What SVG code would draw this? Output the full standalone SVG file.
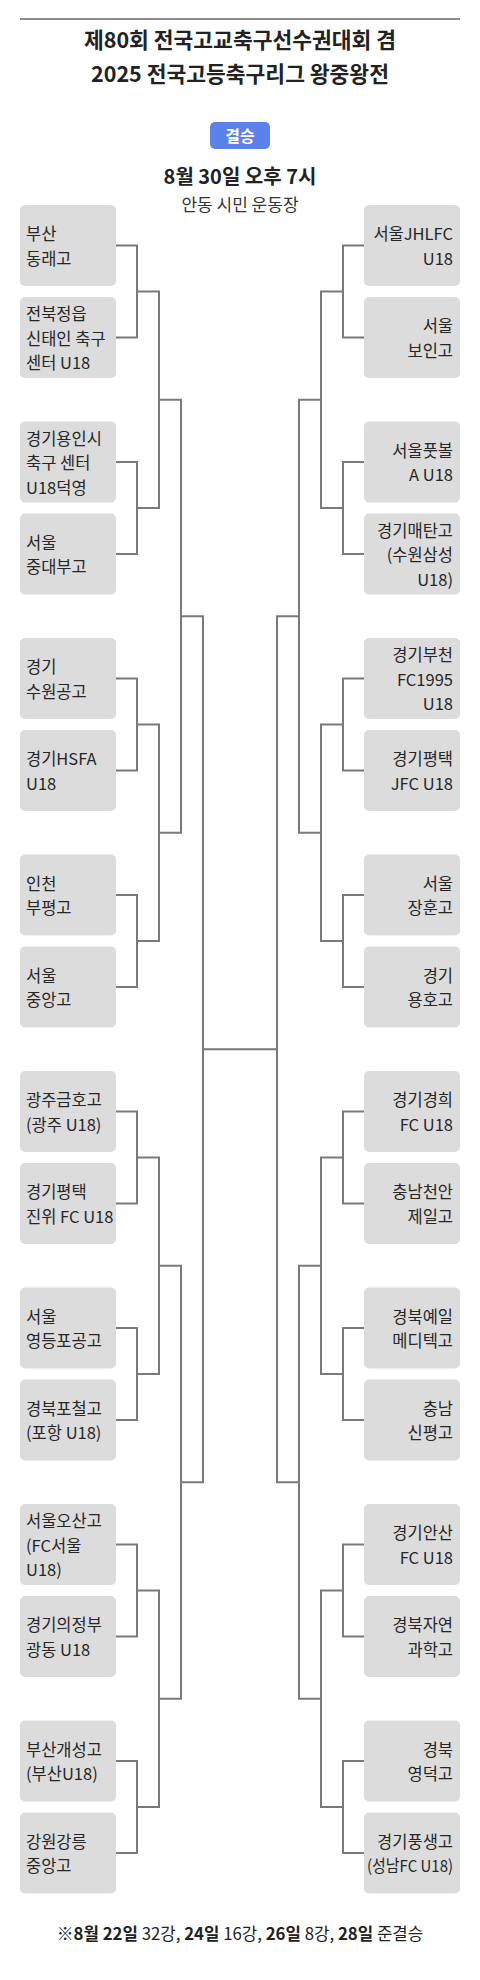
<svg xmlns="http://www.w3.org/2000/svg" width="480" height="1980" viewBox="0 0 480 1980">
<style>
.bg{fill:#ffffff}
.box{fill:#dcdcdc}
.t{font-family:"Noto Sans CJK KR","Noto Sans",sans-serif;font-size:16.5px;fill:#262626}
.l{text-anchor:start}
.r{text-anchor:end}
.title{font-family:"Noto Sans CJK KR","Noto Sans",sans-serif;font-size:21.5px;font-weight:700;fill:#222;text-anchor:middle}
.conn{fill:none;stroke:#7a7a7a;stroke-width:2}
</style>
<rect class="bg" x="0" y="0" width="480" height="1980"/>
<line x1="20" y1="19" x2="460" y2="19" stroke="#8c8c8c" stroke-width="2"/>
<g id="header">
<text class="title" x="240" y="47.5">제80회 전국고교축구선수권대회 겸</text>
<text class="title" x="240" y="81.5">2025 전국고등축구리그 왕중왕전</text>
<rect x="210" y="122" width="60" height="27" rx="5" fill="#5b81ea"/>
<text x="240" y="142" font-family="'Noto Sans CJK KR',sans-serif" font-size="16" font-weight="700" fill="#ffffff" text-anchor="middle">결승</text>
<text x="240" y="184" font-family="'Noto Sans CJK KR',sans-serif" font-size="20" font-weight="700" fill="#222" text-anchor="middle">8월 30일 오후 7시</text>
<text x="240" y="211" font-family="'Noto Sans CJK KR',sans-serif" font-size="17" fill="#333" text-anchor="middle">안동 시민 운동장</text>
</g>
<g id="connectors">
<path class="conn" d="M116 245.5H137V337.5H116M116 462H137V554H116M116 678.5H137V770.5H116M116 895H137V987H116M116 1111.5H137V1203.5H116M116 1328H137V1420H116M116 1544.5H137V1636.5H116M116 1761H137V1853H116"/>
<path class="conn" d="M137 291.5H159V508H137M137 724.5H159V941H137M137 1157.5H159V1374H137M137 1590.5H159V1807H137"/>
<path class="conn" d="M159 399.75H181V832.75H159M159 1265.75H181V1698.75H159"/>
<path class="conn" d="M181 616.25H203V1482.25H181"/>
<path class="conn" d="M364 245.5H343V337.5H364M364 462H343V554H364M364 678.5H343V770.5H364M364 895H343V987H364M364 1111.5H343V1203.5H364M364 1328H343V1420H364M364 1544.5H343V1636.5H364M364 1761H343V1853H364"/>
<path class="conn" d="M343 291.5H321V508H343M343 724.5H321V941H343M343 1157.5H321V1374H343M343 1590.5H321V1807H343"/>
<path class="conn" d="M321 399.75H299V832.75H321M321 1265.75H299V1698.75H321"/>
<path class="conn" d="M299 616.25H277V1482.25H299"/>
<path class="conn" d="M203 1049.25H277"/>
</g>
<g id="L1"><rect class="box" x="20" y="205" width="96" height="81" rx="5"/><text class="t l"><tspan x="26" y="240.25">부산</tspan><tspan x="26" y="264.75">동래고</tspan></text></g>
<g id="L2"><rect class="box" x="20" y="297" width="96" height="81" rx="5"/><text class="t l"><tspan x="26" y="320">전북정읍</tspan><tspan x="26" y="344.5">신태인 축구</tspan><tspan x="26" y="369">센터 U18</tspan></text></g>
<g id="L3"><rect class="box" x="20" y="421.5" width="96" height="81" rx="5"/><text class="t l"><tspan x="26" y="444.5">경기용인시</tspan><tspan x="26" y="469">축구 센터</tspan><tspan x="26" y="493.5">U18덕영</tspan></text></g>
<g id="L4"><rect class="box" x="20" y="513.5" width="96" height="81" rx="5"/><text class="t l"><tspan x="26" y="548.75">서울</tspan><tspan x="26" y="573.25">중대부고</tspan></text></g>
<g id="L5"><rect class="box" x="20" y="638" width="96" height="81" rx="5"/><text class="t l"><tspan x="26" y="673.25">경기</tspan><tspan x="26" y="697.75">수원공고</tspan></text></g>
<g id="L6"><rect class="box" x="20" y="730" width="96" height="81" rx="5"/><text class="t l"><tspan x="26" y="765.25">경기HSFA</tspan><tspan x="26" y="789.75">U18</tspan></text></g>
<g id="L7"><rect class="box" x="20" y="854.5" width="96" height="81" rx="5"/><text class="t l"><tspan x="26" y="889.75">인천</tspan><tspan x="26" y="914.25">부평고</tspan></text></g>
<g id="L8"><rect class="box" x="20" y="946.5" width="96" height="81" rx="5"/><text class="t l"><tspan x="26" y="981.75">서울</tspan><tspan x="26" y="1006.25">중앙고</tspan></text></g>
<g id="L9"><rect class="box" x="20" y="1071" width="96" height="81" rx="5"/><text class="t l"><tspan x="26" y="1106.25">광주금호고</tspan><tspan x="26" y="1130.75">(광주 U18)</tspan></text></g>
<g id="L10"><rect class="box" x="20" y="1163" width="96" height="81" rx="5"/><text class="t l"><tspan x="26" y="1198.25">경기평택</tspan><tspan x="26" y="1222.75">진위 FC U18</tspan></text></g>
<g id="L11"><rect class="box" x="20" y="1287.5" width="96" height="81" rx="5"/><text class="t l"><tspan x="26" y="1322.75">서울</tspan><tspan x="26" y="1347.25">영등포공고</tspan></text></g>
<g id="L12"><rect class="box" x="20" y="1379.5" width="96" height="81" rx="5"/><text class="t l"><tspan x="26" y="1414.75">경북포철고</tspan><tspan x="26" y="1439.25">(포항 U18)</tspan></text></g>
<g id="L13"><rect class="box" x="20" y="1504" width="96" height="81" rx="5"/><text class="t l"><tspan x="26" y="1527">서울오산고</tspan><tspan x="26" y="1551.5">(FC서울</tspan><tspan x="26" y="1576">U18)</tspan></text></g>
<g id="L14"><rect class="box" x="20" y="1596" width="96" height="81" rx="5"/><text class="t l"><tspan x="26" y="1631.25">경기의정부</tspan><tspan x="26" y="1655.75">광동 U18</tspan></text></g>
<g id="L15"><rect class="box" x="20" y="1720.5" width="96" height="81" rx="5"/><text class="t l"><tspan x="26" y="1755.75">부산개성고</tspan><tspan x="26" y="1780.25">(부산U18)</tspan></text></g>
<g id="L16"><rect class="box" x="20" y="1812.5" width="96" height="81" rx="5"/><text class="t l"><tspan x="26" y="1847.75">강원강릉</tspan><tspan x="26" y="1872.25">중앙고</tspan></text></g>
<g id="R1"><rect class="box" x="364" y="205" width="96" height="81" rx="5"/><text class="t r"><tspan x="453" y="240.25">서울JHLFC</tspan><tspan x="453" y="264.75">U18</tspan></text></g>
<g id="R2"><rect class="box" x="364" y="297" width="96" height="81" rx="5"/><text class="t r"><tspan x="453" y="332.25">서울</tspan><tspan x="453" y="356.75">보인고</tspan></text></g>
<g id="R3"><rect class="box" x="364" y="421.5" width="96" height="81" rx="5"/><text class="t r"><tspan x="453" y="456.75">서울풋볼</tspan><tspan x="453" y="481.25">A U18</tspan></text></g>
<g id="R4"><rect class="box" x="364" y="513.5" width="96" height="81" rx="5"/><text class="t r"><tspan x="453" y="536.5">경기매탄고</tspan><tspan x="453" y="561">(수원삼성</tspan><tspan x="453" y="585.5">U18)</tspan></text></g>
<g id="R5"><rect class="box" x="364" y="638" width="96" height="81" rx="5"/><text class="t r"><tspan x="453" y="661">경기부천</tspan><tspan x="453" y="685.5">FC1995</tspan><tspan x="453" y="710">U18</tspan></text></g>
<g id="R6"><rect class="box" x="364" y="730" width="96" height="81" rx="5"/><text class="t r"><tspan x="453" y="765.25">경기평택</tspan><tspan x="453" y="789.75">JFC U18</tspan></text></g>
<g id="R7"><rect class="box" x="364" y="854.5" width="96" height="81" rx="5"/><text class="t r"><tspan x="453" y="889.75">서울</tspan><tspan x="453" y="914.25">장훈고</tspan></text></g>
<g id="R8"><rect class="box" x="364" y="946.5" width="96" height="81" rx="5"/><text class="t r"><tspan x="453" y="981.75">경기</tspan><tspan x="453" y="1006.25">용호고</tspan></text></g>
<g id="R9"><rect class="box" x="364" y="1071" width="96" height="81" rx="5"/><text class="t r"><tspan x="453" y="1106.25">경기경희</tspan><tspan x="453" y="1130.75">FC U18</tspan></text></g>
<g id="R10"><rect class="box" x="364" y="1163" width="96" height="81" rx="5"/><text class="t r"><tspan x="453" y="1198.25">충남천안</tspan><tspan x="453" y="1222.75">제일고</tspan></text></g>
<g id="R11"><rect class="box" x="364" y="1287.5" width="96" height="81" rx="5"/><text class="t r"><tspan x="453" y="1322.75">경북예일</tspan><tspan x="453" y="1347.25">메디텍고</tspan></text></g>
<g id="R12"><rect class="box" x="364" y="1379.5" width="96" height="81" rx="5"/><text class="t r"><tspan x="453" y="1414.75">충남</tspan><tspan x="453" y="1439.25">신평고</tspan></text></g>
<g id="R13"><rect class="box" x="364" y="1504" width="96" height="81" rx="5"/><text class="t r"><tspan x="453" y="1539.25">경기안산</tspan><tspan x="453" y="1563.75">FC U18</tspan></text></g>
<g id="R14"><rect class="box" x="364" y="1596" width="96" height="81" rx="5"/><text class="t r"><tspan x="453" y="1631.25">경북자연</tspan><tspan x="453" y="1655.75">과학고</tspan></text></g>
<g id="R15"><rect class="box" x="364" y="1720.5" width="96" height="81" rx="5"/><text class="t r"><tspan x="453" y="1755.75">경북</tspan><tspan x="453" y="1780.25">영덕고</tspan></text></g>
<g id="R16"><rect class="box" x="364" y="1812.5" width="96" height="81" rx="5"/><text class="t r"><tspan x="453" y="1847.75">경기풍생고</tspan><tspan x="453" y="1872.25" textLength="86" lengthAdjust="spacingAndGlyphs">(성남FC U18)</tspan></text></g>
<g id="footer">
<text x="240" y="1940" font-family="'Noto Sans CJK KR',sans-serif" font-size="16.8" fill="#222" text-anchor="middle"><tspan font-weight="700">※8월 22일</tspan> 32강, <tspan font-weight="700">24일</tspan> 16강, <tspan font-weight="700">26일</tspan> 8강, <tspan font-weight="700">28일</tspan> 준결승</text>
</g>
</svg>
